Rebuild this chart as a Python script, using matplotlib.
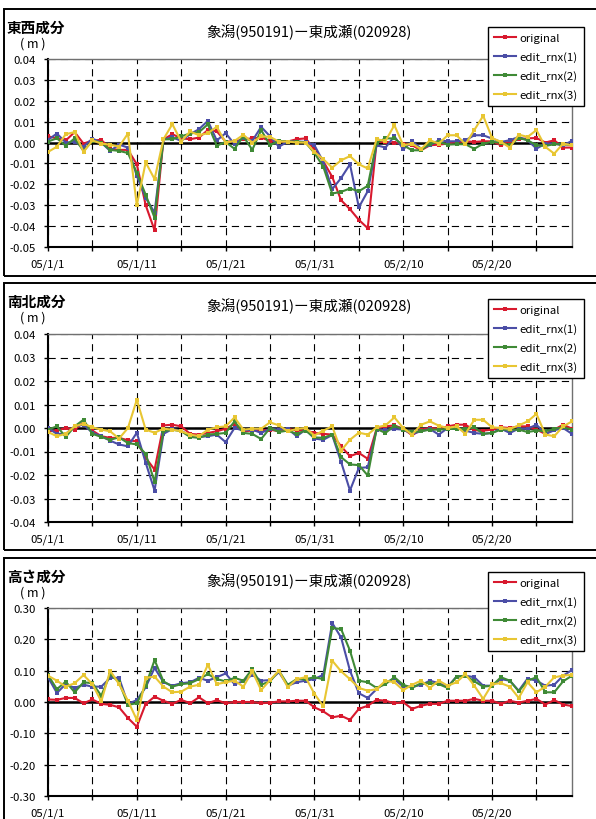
import numpy as np
import pandas as pd
import matplotlib
matplotlib.use("Agg")
import matplotlib.pyplot as plt
from matplotlib.patches import Rectangle
from matplotlib.ticker import FuncFormatter

plt.rcParams['font.family'] = ['Noto Sans CJK JP', 'DejaVu Sans']

# ------------------------------------------------------------------
# Daily baseline differences, 2005/1/1 - 2005/3/1 (m)
# ------------------------------------------------------------------

DATES = pd.date_range("2005-01-01", periods=60, freq="D")
SERIES_NAMES = ["original", "edit_rnx(1)", "edit_rnx(2)", "edit_rnx(3)"]
STATION_TITLE = "象潟(950191)ー東成瀬(020928)"

EW_ORIGINAL = [
    0.003, 0.002, 0.001, 0.005, -0.0005, 0.001, 0.0013, -0.003, -0.0035, -0.0035,
    -0.0104, -0.030, -0.042, 0.0015, 0.004, 0.002, 0.0016, 0.0024, 0.006, 0.0054,
    0.0005, 0.0005, 0.0016, 0.002, 0.0024, 0.0008, 0.0005, 0.0005, 0.0016, 0.002,
    -0.0033, -0.009, -0.0164, -0.0276, -0.0319, -0.037, -0.041, 0.0003, 0.0003, 0.0,
    -0.0005, -0.0013, -0.0037, -0.0013, -0.001, -0.0005, 0.0003, 0.0006, 0.0003, 0.0006,
    0.0006, -0.0013, 0.0006, 0.0016, 0.002, 0.0022, 0.0, 0.0011, -0.0024, -0.0024,
]
EW_RNX1 = [
    0.0013, 0.0043, 0.0, 0.0003, -0.002, 0.0019, 0.0, -0.004, -0.001, -0.0024,
    -0.016, -0.0265, -0.0335, 0.0015, 0.0025, 0.0008, 0.004, 0.0064, 0.0104, 0.001,
    0.0045, -0.0008, 0.0024, 0.0008, 0.0075, 0.003, -0.002, 0.0005, 0.0005, 0.0003,
    -0.0013, -0.0092, -0.0223, -0.017, -0.0104, -0.031, -0.0233, -0.0013, -0.0024, 0.003,
    -0.0032, 0.0006, -0.0029, -0.0013, 0.0011, 0.0006, 0.0006, 0.0011, 0.0035, 0.0035,
    0.0019, 0.0003, 0.0011, 0.0027, 0.0011, -0.0029, -0.0005, -0.0005, -0.0013, 0.0008,
]
EW_RNX2 = [
    0.0005, 0.002, -0.0015, 0.002, -0.004, 0.0008, 0.0, -0.0035, -0.004, -0.005,
    -0.0145, -0.025, -0.036, 0.0015, 0.0016, 0.003, 0.0043, 0.005, 0.0087, -0.0015,
    0.0003, -0.003, 0.003, -0.0035, 0.006, -0.0013, 0.0008, 0.0005, 0.0005, 0.0,
    -0.005, -0.0116, -0.0244, -0.0236, -0.022, -0.0233, -0.0207, 0.0, 0.002, 0.002,
    -0.0013, -0.0037, -0.0037, -0.0005, 0.0003, -0.001, -0.0008, -0.0008, -0.003, -0.0005,
    0.0003, 0.0, -0.0013, 0.0022, 0.0011, -0.0013, -0.0016, -0.0008, -0.0008, -0.0013,
]
EW_RNX3 = [
    -0.0045, -0.002, 0.004, 0.005, -0.0045, 0.001, -0.0005, -0.001, -0.002, 0.0043,
    -0.030, -0.0095, -0.0175, 0.0016, 0.0088, 0.0005, 0.0053, 0.0035, 0.0045, 0.0075,
    0.0, 0.0008, 0.0037, 0.0, 0.003, 0.0027, 0.0005, 0.0005, 0.0, 0.0,
    -0.0045, -0.008, -0.012, -0.0085, -0.0065, -0.0104, -0.0124, 0.0016, 0.0008, 0.0083,
    -0.0013, -0.0005, -0.0032, 0.0011, -0.0005, 0.0035, 0.0035, -0.0008, 0.006, 0.0128,
    0.0022, 0.0003, -0.0024, 0.0038, 0.0027, 0.006, -0.0021, -0.0053, -0.0005, -0.0013,
]

NS_ORIGINAL = [
    -0.0014, -0.0011, 0.0, -0.0007, 0.0025, -0.0011, -0.0035, -0.0042, -0.0042, -0.0052,
    -0.0057, -0.0127, -0.0177, 0.0011, 0.0014, 0.0007, -0.0025, -0.0028, -0.0021, -0.0014,
    -0.0003, 0.0017, -0.0014, -0.0011, -0.0011, -0.0007, -0.0014, -0.0003, -0.0011, -0.0011,
    -0.0021, -0.0025, -0.0028, -0.0078, -0.012, -0.0106, -0.0131, -0.0003, 0.0007, 0.0011,
    -0.0003, -0.0031, -0.0007, 0.0, -0.0003, 0.0007, 0.0014, 0.0014, -0.001, -0.0011,
    -0.0007, 0.0003, 0.0, 0.0007, 0.0007, -0.0007, -0.0025, -0.0007, 0.0014, -0.0003,
]
NS_RNX1 = [
    0.0, -0.0025, -0.0025, 0.0007, 0.0014, -0.002, -0.0035, -0.0054, -0.007, -0.0078,
    -0.002, -0.0148, -0.0266, -0.0025, -0.0004, -0.0011, -0.0035, -0.0038, -0.0035, -0.0028,
    -0.006, 0.0, -0.0011, -0.0007, -0.0021, -0.0003, -0.0007, -0.0003, -0.0035, -0.0007,
    -0.0045, -0.005, -0.003, -0.0144, -0.0266, -0.017, -0.0167, -0.0007, -0.0007, -0.0004,
    -0.0007, -0.0025, -0.0014, -0.0004, -0.0028, 0.0, 0.0, -0.0011, -0.0021, -0.0025,
    -0.0021, -0.0003, -0.0021, -0.0003, -0.0003, 0.0014, -0.0025, -0.001, 0.0, -0.0025,
]
NS_RNX2 = [
    -0.0007, 0.0007, -0.0038, 0.0007, 0.0035, -0.0025, -0.0038, -0.005, -0.004, -0.0064,
    -0.007, -0.011, -0.0229, -0.0014, -0.0007, -0.0014, -0.0038, -0.0042, -0.0028, -0.0025,
    -0.0021, 0.0028, -0.0021, -0.0025, -0.0047, 0.0, -0.0017, -0.0011, -0.0025, -0.0011,
    -0.004, -0.0042, -0.0028, -0.0124, -0.0155, -0.0158, -0.0202, -0.0004, -0.0021, 0.001,
    -0.0007, -0.0017, -0.0014, -0.0007, -0.0007, -0.0004, -0.0004, -0.0004, 0.0003, -0.0025,
    -0.0021, -0.0007, -0.0007, -0.0007, -0.0017, -0.0011, -0.0014, -0.0003, 0.0003, -0.0007,
]
NS_RNX3 = [
    -0.0017, -0.0035, -0.0025, 0.0007, 0.0018, 0.0003, -0.0007, -0.0014, -0.0045, 0.0,
    0.012, -0.0007, -0.002, -0.0003, -0.0007, -0.0014, -0.0028, -0.0035, -0.0007, 0.0003,
    0.0007, 0.0045, -0.0007, -0.0003, -0.0003, 0.0024, 0.0011, -0.0014, -0.0004, 0.0,
    -0.0032, -0.0011, 0.0007, -0.0096, -0.005, -0.002, -0.0028, 0.0003, 0.0011, 0.0045,
    0.0, -0.0028, 0.0014, 0.0028, 0.001, 0.0, 0.0007, -0.0025, 0.0035, 0.0035,
    0.0003, 0.0, -0.0004, 0.0011, 0.0028, 0.006, -0.0028, -0.0035, 0.0007, 0.0028,
]

UD_ORIGINAL = [
    0.008, 0.007, 0.013, 0.013, -0.004, 0.008, -0.006, -0.009, -0.017, -0.051,
    -0.079, -0.006, 0.017, 0.004, -0.006, 0.007, -0.004, 0.015, -0.004, 0.006,
    -0.004, 0.0, 0.0, 0.0, -0.004, -0.002, 0.002, 0.002, 0.004, 0.004,
    -0.017, -0.030, -0.049, -0.044, -0.057, -0.022, -0.012, 0.007, 0.004, -0.004,
    -0.001, -0.022, -0.012, -0.006, -0.006, 0.004, 0.004, 0.004, 0.010, 0.004,
    0.004, -0.006, 0.004, -0.002, 0.004, 0.010, -0.008, 0.006, -0.008, -0.013,
]
UD_RNX1 = [
    0.079, 0.029, 0.057, 0.045, 0.055, 0.049, 0.049, 0.077, 0.077, -0.006,
    0.006, 0.047, 0.109, 0.063, 0.052, 0.060, 0.063, 0.077, 0.068, 0.079,
    0.091, 0.057, 0.066, 0.087, 0.068, 0.070, 0.095, 0.052, 0.063, 0.068,
    0.073, 0.087, 0.252, 0.206, 0.100, 0.028, 0.013, 0.041, 0.063, 0.073,
    0.049, 0.049, 0.054, 0.068, 0.060, 0.049, 0.081, 0.084, 0.079, 0.052,
    0.052, 0.073, 0.068, 0.036, 0.075, 0.068, 0.052, 0.055, 0.084, 0.102,
]
UD_RNX2 = [
    0.086, 0.041, 0.065, 0.031, 0.063, 0.060, 0.020, 0.089, 0.063, -0.009,
    -0.004, 0.052, 0.134, 0.066, 0.049, 0.057, 0.060, 0.073, 0.089, 0.073,
    0.066, 0.077, 0.068, 0.105, 0.055, 0.066, 0.100, 0.055, 0.073, 0.073,
    0.079, 0.073, 0.236, 0.233, 0.164, 0.068, 0.063, 0.045, 0.057, 0.079,
    0.055, 0.045, 0.060, 0.060, 0.057, 0.045, 0.081, 0.084, 0.066, 0.049,
    0.052, 0.079, 0.068, 0.034, 0.068, 0.079, 0.031, 0.031, 0.066, 0.084,
]
UD_RNX3 = [
    0.084, 0.068, 0.049, 0.060, 0.086, 0.057, 0.002, 0.100, 0.057, 0.004,
    -0.057, 0.077, 0.081, 0.049, 0.031, 0.033, 0.049, 0.055, 0.119, 0.057,
    0.063, 0.068, 0.049, 0.098, 0.038, 0.070, 0.100, 0.047, 0.073, 0.079,
    0.026, -0.014, 0.132, 0.098, 0.073, 0.045, 0.036, 0.041, 0.068, 0.063,
    0.038, 0.055, 0.068, 0.045, 0.068, 0.052, 0.063, 0.089, 0.052, 0.010,
    0.057, 0.060, 0.049, 0.013, 0.063, 0.031, 0.049, 0.079, 0.084, 0.087,
]

COLORS = ["#d8192e", "#4b4ea6", "#3f8a36", "#e8c633"]

# ------------------------------------------------------------------
# Layout (pixels on a 596x820 canvas)
# ------------------------------------------------------------------

W, H = 596, 820

PANELS = [
    # label, series, y range, y step, box top/bottom, plot top/bottom, legend top
    ("東西成分", [EW_ORIGINAL, EW_RNX1, EW_RNX2, EW_RNX3], (-0.05, 0.04), 0.01,
     10, 277, 60, 248, 28),
    ("南北成分", [NS_ORIGINAL, NS_RNX1, NS_RNX2, NS_RNX3], (-0.04, 0.04), 0.01,
     284, 551, 335, 523, 300),
    ("高さ成分", [UD_ORIGINAL, UD_RNX1, UD_RNX2, UD_RNX3], (-0.30, 0.30), 0.10,
     559, 830, 609, 797, 573),
]

PLOT_LEFT, PLOT_RIGHT = 48, 572


def fx(px):
    return px / W


def fy(py):
    return 1 - py / H


def draw_panel(fig, label, series, ylim, ystep, box_top, box_bot, plot_top, plot_bot, leg_top):
    fig.patches.append(Rectangle((fx(4), fy(box_bot)), fx(600 - 4), (box_bot - box_top) / H,
                                 transform=fig.transFigure, fill=False,
                                 edgecolor="black", linewidth=1.4, zorder=0))

    ax = fig.add_axes([fx(PLOT_LEFT), fy(plot_bot), fx(PLOT_RIGHT - PLOT_LEFT),
                       (plot_bot - plot_top) / H])
    x = np.arange(len(DATES))

    ax.axhline(0, color="black", linewidth=1.8, zorder=1.5)
    for name, ys, color in zip(SERIES_NAMES, series, COLORS):
        ax.plot(x, ys, color=color, linewidth=1.5, marker="s", markersize=2.2,
                markeredgewidth=0, label=name, zorder=3)

    ax.set_xlim(0, len(DATES) - 1)
    ax.set_ylim(*ylim)
    nsteps = int(round((ylim[1] - ylim[0]) / ystep))
    ax.set_yticks([ylim[0] + i * ystep for i in range(nsteps + 1)])
    ax.yaxis.set_major_formatter(FuncFormatter(lambda v, _: f"{v:.2f}".replace("-0.00", "0.00")))

    tick_pos = list(range(0, len(DATES), 5))
    ax.set_xticks(tick_pos)
    ax.set_xticklabels([f"{DATES[i].year % 100:02d}/{DATES[i].month}/{DATES[i].day}"
                        if i % 10 == 0 else "" for i in tick_pos])

    ax.grid(True, color="black", linestyle=(0, (6.5, 4.5)), linewidth=0.8, zorder=1)
    ax.set_axisbelow(True)

    for side in ("left", "bottom"):
        ax.spines[side].set_linewidth(1.5)
    for side in ("top", "right"):
        ax.spines[side].set_color("#707070")
        ax.spines[side].set_linewidth(1.0)
    ax.tick_params(axis="both", direction="out", length=3, width=1, labelsize=8.2)
    ax.tick_params(axis="y", pad=6)
    ax.tick_params(axis="x", pad=5)

    fig.text(fx(7), fy(box_top + 18), label, fontsize=10.5, fontweight="bold",
             ha="left", va="center")
    fig.text(fx(20), fy(box_top + 34), "( m )", fontsize=9, ha="left", va="center")
    fig.text(fx(309), fy(box_top + 22), STATION_TITLE, fontsize=10.5,
             ha="center", va="center")

    leg = ax.legend(loc="upper left", bbox_to_anchor=(fx(488), fy(leg_top)),
                    bbox_transform=fig.transFigure, fontsize=8.2, frameon=True,
                    fancybox=False, framealpha=1, edgecolor="black",
                    handlelength=1.9, handletextpad=0.3, labelspacing=0.7,
                    borderpad=0.55, borderaxespad=0)
    leg.get_frame().set_linewidth(1.0)
    leg.set_zorder(5)
    return ax


def main() -> None:
    fig = plt.figure(figsize=(W / 100, H / 100), dpi=100)
    for panel in PANELS:
        draw_panel(fig, *panel)
    fig.savefig("out.png", dpi=100)
    plt.close(fig)


if __name__ == "__main__":
    main()
